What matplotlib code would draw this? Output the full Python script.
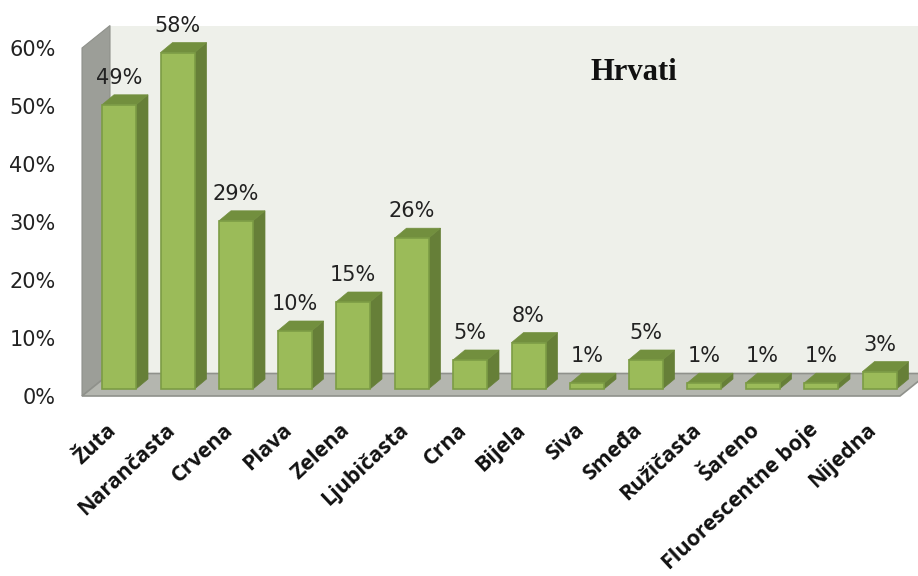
import matplotlib
matplotlib.use("Agg")
import matplotlib.pyplot as plt
from matplotlib.patches import Polygon
from matplotlib.transforms import ScaledTranslation

boje = ["Žuta", "Narančasta", "Crvena", "Plava", "Zelena", "Ljubičasta", "Crna", "Bijela",
        "Siva", "Smeđa", "Ružičasta", "Šareno", "Fluorescentne boje", "Nijedna"]
postoci = [49, 58, 29, 10, 15, 26, 5, 8, 1, 5, 1, 1, 1, 3]
y_ticks = [0, 10, 20, 30, 40, 50, 60]

W, H = 918, 576
X0, X1, Y0, Y1 = 82, 900, 396, 48  # rub osi u pikselima
STEP = 58.5
fig = plt.figure(figsize=(W / 100, H / 100), dpi=100)
ax = fig.add_axes([X0 / W, 1 - Y0 / H, (X1 - X0) / W, (Y0 - Y1) / H])
ax.set_xlim((X0 - 119) / STEP, (X1 - 119) / STEP)
ax.set_ylim(0, 60)
for s in ax.spines.values():
    s.set_visible(False)

x_left, x_right = ax.get_xlim()
# dubina 3D prikaza u jedinicama osi
wall_dx, wall_dy = 28 / STEP, 22.5 / 5.8
bar_dx, bar_dy = 12 / STEP, 10 / 5.8
bar_w = 34 / STEP
base = 7 / 5.8


def poly(pts, fc, ec="none", lw=0, z=1):
    ax.add_patch(Polygon(pts, closed=True, fc=fc, ec=ec, lw=lw, zorder=z, clip_on=False))


# zidovi i pod
poly([(x_left + wall_dx, wall_dy), (x_right + wall_dx, wall_dy), (x_right + wall_dx, 60 + wall_dy),
      (x_left + wall_dx, 60 + wall_dy)], "#EEF0EA")
poly([(x_left, 0), (x_left + wall_dx, wall_dy), (x_left + wall_dx, 60 + wall_dy), (x_left, 60)],
     "#9C9E98", ec="#8F918B", lw=0.8)
poly([(x_left, 0), (x_right, 0), (x_right + wall_dx, wall_dy), (x_left + wall_dx, wall_dy)],
     "#B4B6AF", ec="#8F918B", lw=1.2)

# stupci
for i, v in enumerate(postoci):
    l, r = i - bar_w / 2, i + bar_w / 2
    t = base + v
    poly([(r, base), (r + bar_dx, base + bar_dy), (r + bar_dx, t + bar_dy), (r, t)],
         "#667F38", ec="#667F38", lw=0.5, z=3)
    poly([(l, t), (r, t), (r + bar_dx, t + bar_dy), (l + bar_dx, t + bar_dy)],
         "#728F3E", ec="#728F3E", lw=0.5, z=3)
    poly([(l, base), (r, base), (r, t), (l, t)], "#9BBB59", ec="#7C9C45", lw=1.2, z=4)
    ax.annotate(f"{v}%", (i, t + bar_dy), xytext=(0, 5), textcoords="offset points",
                ha="center", va="bottom", fontsize=15, color="#222222",
                annotation_clip=False, zorder=5)

ax.set_yticks(y_ticks)
ax.set_yticklabels([f"{v}%" for v in y_ticks], fontsize=15, color="#222222")
ax.tick_params(axis="y", length=0, pad=19)
ax.set_xticks(range(len(boje)))
ax.set_xticklabels(boje, rotation=43, ha="right", rotation_mode="anchor", fontsize=15.5,
                   family="Open Sans", fontweight="bold", color="#111111")
ax.tick_params(axis="x", length=0, pad=17)
# natpisi kategorija malo ulijevo
pomak = ScaledTranslation(-13 / 100, 0, fig.dpi_scale_trans)
for lab in ax.get_xticklabels():
    lab.set_transform(lab.get_transform() + pomak)

ax.text((634 - 119) / STEP, (396 - 72) / 5.8, "Hrvati", ha="center", va="center", fontsize=22,
        family="Liberation Serif", fontweight="bold", color="#111111", zorder=2)

fig.savefig("out.png", dpi=100)
